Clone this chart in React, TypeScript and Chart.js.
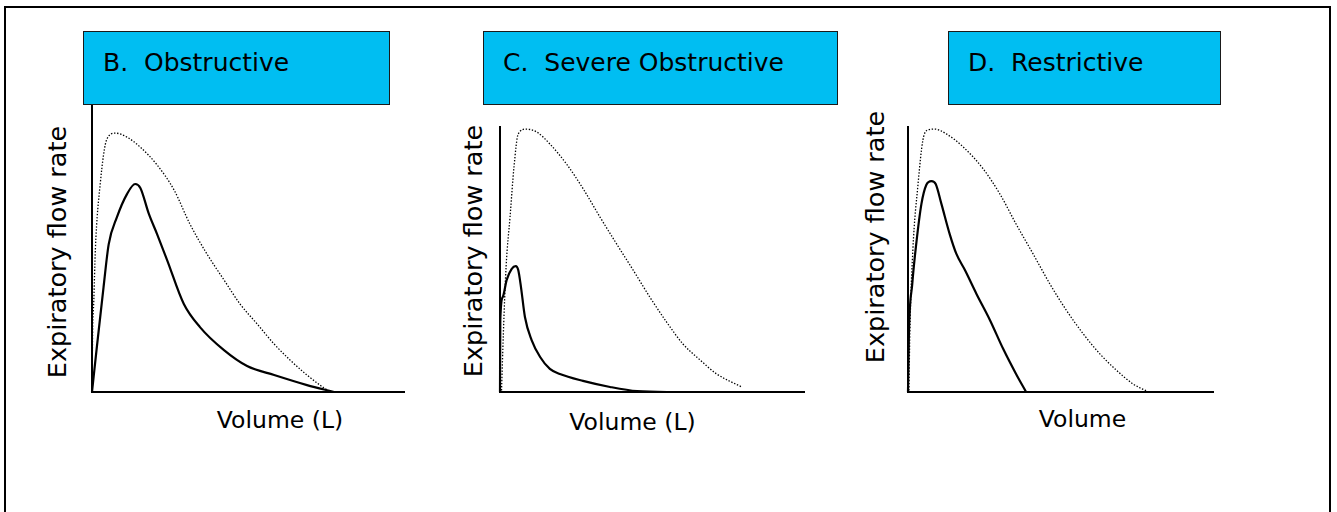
import React, { useEffect, useRef } from "react";
import { Chart, registerables } from "chart.js";

Chart.register(...registerables);

// ---------- Text ----------
const panelTitles = ["B.  Obstructive", "C.  Severe Obstructive", "D.  Restrictive"];
const yAxisTitle = "Expiratory flow rate";
const xAxisTitles = ["Volume (L)", "Volume (L)", "Volume"];

// ---------- Data (volume units, flow units) ----------
// B. Obstructive — normal (dotted) curve
const bNormalVolume = [0, 0.02, 0.06, 0.11, 0.27, 0.49, 0.77, 1.15, 1.58, 2.14, 2.7, 3.22, 3.78, 4.34, 4.87, 5.43, 5.99, 6.51, 7.07, 7.63, 7.83];
const bNormalFlow = [0, 2.19, 3.47, 5.36, 7.85, 9.55, 9.77, 9.62, 9.25, 8.57, 7.62, 6.34, 5.21, 4.23, 3.32, 2.57, 1.81, 1.21, 0.64, 0.15, 0];
// B. Obstructive — patient (solid) curve
const bPatientVolume = [0, 0.16, 0.38, 0.55, 0.82, 1.15, 1.42, 1.59, 1.87, 2.14, 2.47, 3.02, 3.55, 4.34, 5.1, 5.99, 7.07, 7.96];
const bPatientFlow = [0, 1.7, 3.96, 5.58, 6.6, 7.47, 7.85, 7.7, 6.72, 5.96, 4.98, 3.32, 2.45, 1.58, 0.98, 0.64, 0.26, 0];

// C. Severe Obstructive — normal (dotted)
const cNormalVolume = [0.05, 0.11, 0.2, 0.33, 0.46, 0.6, 0.86, 1.21, 1.64, 2.19, 2.74, 3.29, 3.84, 4.38, 4.93, 5.48, 6.02, 6.58, 7.13, 7.95];
const cNormalFlow = [0.06, 2.19, 4.72, 6.6, 8.49, 9.74, 9.92, 9.81, 9.36, 8.6, 7.66, 6.6, 5.58, 4.6, 3.58, 2.64, 1.81, 1.21, 0.68, 0.19];
// C. Severe Obstructive — patient (solid)
const cPatientVolume = [0, 0.01, 0.09, 0.22, 0.38, 0.52, 0.6, 0.69, 0.82, 1.04, 1.32, 1.64, 1.97, 2.73, 3.62, 4.51, 5.49, 6.25];
const cPatientFlow = [0, 2.72, 3.58, 4.23, 4.64, 4.75, 4.6, 3.96, 2.83, 1.96, 1.32, 0.87, 0.68, 0.42, 0.19, 0.03, 0, 0];

// D. Restrictive — normal (dotted)
const dNormalVolume = [0.03, 0.06, 0.16, 0.33, 0.49, 0.66, 0.88, 1.26, 1.81, 2.47, 3.02, 3.55, 4.11, 4.66, 5.2, 5.76, 6.31, 6.84, 7.4, 7.83];
const dNormalFlow = [0.06, 2.19, 5.36, 7.85, 9.51, 9.89, 9.92, 9.74, 9.25, 8.42, 7.47, 6.34, 5.21, 4.08, 3.09, 2.19, 1.43, 0.83, 0.3, 0.04];
// D. Restrictive — patient (solid)
const dPatientVolume = [0, 0.03, 0.14, 0.27, 0.44, 0.6, 0.77, 0.91, 1.1, 1.37, 1.59, 1.87, 2.25, 2.69, 3.13, 3.55, 3.88];
const dPatientFlow = [0, 2.19, 4.08, 5.58, 7.09, 7.81, 7.96, 7.85, 7.09, 5.96, 5.21, 4.6, 3.7, 2.72, 1.62, 0.68, 0];

// Axis ranges per panel
const xAxisMax = [10.26, 10.0, 10.02];
const yAxisMax = [10.87, 10.0, 10.0];

const FONT = "'DejaVu Sans', 'Noto Sans', sans-serif";
const BLUE = "#00BEF2";

type Area = { left: number; top: number; width: number; height: number };

const toPoints = (xs: number[], ys: number[]) => xs.map((x, i) => ({ x, y: ys[i] }));

function CurvePanel(props: {
  area: Area;
  xMax: number;
  yMax: number;
  normalX: number[];
  normalY: number[];
  patientX: number[];
  patientY: number[];
}) {
  const ref = useRef<HTMLCanvasElement | null>(null);
  const M = 6;
  const { area } = props;
  useEffect(() => {
    if (!ref.current) return;
    const axisCommon = {
      type: "linear" as const,
      min: 0,
      ticks: { display: false },
      grid: { display: false, drawTicks: false },
      border: { display: true, color: "#000", width: 2 },
    };
    const chart = new Chart(ref.current, {
      type: "line",
      data: {
        datasets: [
          {
            data: toPoints(props.normalX, props.normalY),
            borderColor: "#000",
            borderWidth: 1.3,
            borderDash: [1.4, 1.7],
            pointRadius: 0,
            fill: false,
            cubicInterpolationMode: "monotone",
            clip: false as any,
          },
          {
            data: toPoints(props.patientX, props.patientY),
            borderColor: "#000",
            borderWidth: 2.2,
            pointRadius: 0,
            fill: false,
            cubicInterpolationMode: "monotone",
            clip: false as any,
          },
        ],
      },
      options: {
        animation: false,
        responsive: false,
        maintainAspectRatio: false,
        events: [],
        layout: { padding: M },
        plugins: { legend: { display: false }, tooltip: { enabled: false }, title: { display: false } },
        scales: {
          x: {
            ...axisCommon,
            max: props.xMax,
            afterFit: (s: any) => {
              s.height = 0;
            },
          },
          y: {
            ...axisCommon,
            max: props.yMax,
            afterFit: (s: any) => {
              s.width = 0;
            },
          },
        } as any,
      },
    });
    return () => chart.destroy();
  }, []);
  return (
    <canvas
      ref={ref}
      width={area.width + 2 * M}
      height={area.height + 2 * M}
      style={{
        position: "absolute",
        left: area.left - M,
        top: area.top - M,
        width: area.width + 2 * M,
        height: area.height + 2 * M,
      }}
    />
  );
}

const plotAreas: Area[] = [
  { left: 92, top: 104, width: 312, height: 288 },
  { left: 500, top: 127, width: 304, height: 265 },
  { left: 908, top: 127, width: 305, height: 265 },
];

const titleBoxes = [
  { left: 83, top: 31, width: 307, height: 74 },
  { left: 483, top: 31, width: 355, height: 74 },
  { left: 948, top: 31, width: 273, height: 74 },
];

const yTitlePos = [
  { x: 57, y: 251.5 },
  { x: 473, y: 251 },
  { x: 875, y: 236.5 },
];

const xTitlePos = [
  { x: 280, top: 406 },
  { x: 632.5, top: 407.5 },
  { x: 1082.5, top: 405 },
];

export default function App() {
  useEffect(() => {
    document.body.style.margin = "0";
  }, []);
  const normals = [
    [bNormalVolume, bNormalFlow],
    [cNormalVolume, cNormalFlow],
    [dNormalVolume, dNormalFlow],
  ];
  const patients = [
    [bPatientVolume, bPatientFlow],
    [cPatientVolume, cPatientFlow],
    [dPatientVolume, dPatientFlow],
  ];
  return (
    <div
      style={{
        position: "fixed",
        left: 0,
        top: 0,
        width: 1337,
        height: 512,
        background: "#fff",
        overflow: "hidden",
        fontFamily: FONT,
        color: "#000",
      }}
    >
      {/* outer frame */}
      <div
        style={{
          position: "absolute",
          left: 4,
          top: 6,
          width: 1327,
          height: 520,
          boxSizing: "border-box",
          borderTop: "2px solid #000",
          borderLeft: "2px solid #000",
          borderRight: "2px solid #000",
        }}
      />
      {plotAreas.map((area, i) => (
        <CurvePanel
          key={i}
          area={area}
          xMax={xAxisMax[i]}
          yMax={yAxisMax[i]}
          normalX={normals[i][0]}
          normalY={normals[i][1]}
          patientX={patients[i][0]}
          patientY={patients[i][1]}
        />
      ))}
      {titleBoxes.map((b, i) => (
        <div
          key={"box" + i}
          style={{
            position: "absolute",
            left: b.left,
            top: b.top,
            width: b.width,
            height: b.height,
            boxSizing: "border-box",
            border: "1px solid #1a1a1a",
            background: BLUE,
            paddingTop: 16,
            paddingLeft: 19,
            fontSize: 25,
            lineHeight: "29px",
            whiteSpace: "pre",
          }}
        >
          {panelTitles[i]}
        </div>
      ))}
      {yTitlePos.map((p, i) => (
        <div
          key={"yt" + i}
          style={{
            position: "absolute",
            left: p.x,
            top: p.y,
            transform: "translate(-50%, -50%) rotate(-90deg)",
            whiteSpace: "nowrap",
            fontSize: 25.5,
            lineHeight: "30px",
          }}
        >
          {yAxisTitle}
        </div>
      ))}
      {xTitlePos.map((p, i) => (
        <div
          key={"xt" + i}
          style={{
            position: "absolute",
            left: p.x,
            top: p.top,
            transform: "translateX(-50%)",
            whiteSpace: "nowrap",
            fontSize: 23.5,
            lineHeight: "28px",
          }}
        >
          {xAxisTitles[i]}
        </div>
      ))}
    </div>
  );
}
